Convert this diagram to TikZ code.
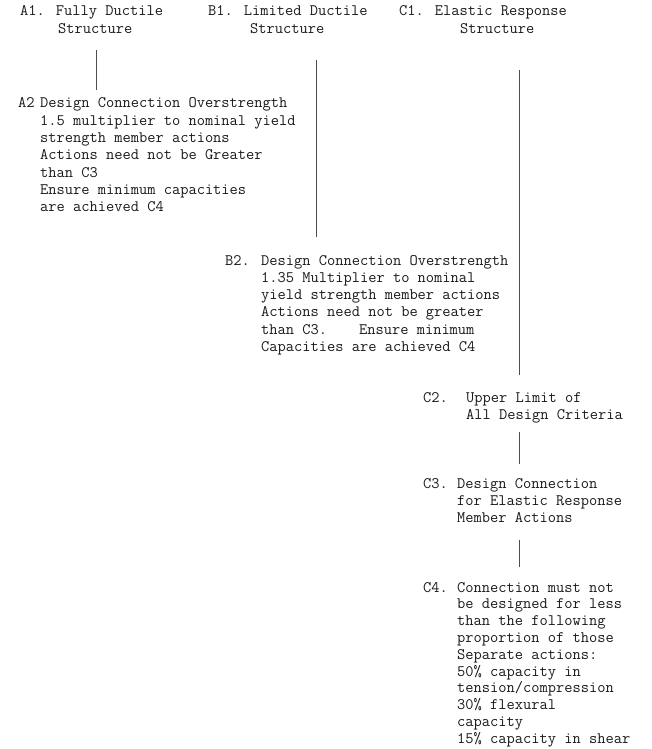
\documentclass[tikz,border=0pt]{standalone}
\usepackage{fontspec}
\usetikzlibrary{positioning}
\begin{document}
\begin{tikzpicture}[x=1pt,y=-1pt,
  every node/.style={black!90,inner sep=0pt,anchor=base west,font=\ttfamily\fontsize{16}{17.3}\selectfont},
  link/.style={draw=black!70,line width=0.9pt}]
  \useasboundingbox (0,0) rectangle (652,749);
  \coordinate (xa) at (96,0);
  \coordinate (xb) at (316,0);
  \coordinate (xc) at (519,0);
  \node (a1) at (20,16) {\begin{tabular}[t]{@{}l@{}}A1. Fully Ductile\\\hspace*{38pt}Structure\end{tabular}};
  \node (b1) at (208,16) {\begin{tabular}[t]{@{}l@{}}B1. Limited Ductile\\\hspace*{42pt}Structure\end{tabular}};
  \node (c1) at (399,16) {\begin{tabular}[t]{@{}l@{}}C1. Elastic Response\\\hspace*{61pt}Structure\end{tabular}};
  \node (a2) at (18,108) {\begin{tabular}[t]{@{}p{22pt}@{}l@{}}
    A2 & Design Connection Overstrength\\
       & 1.5 multiplier to nominal yield\\
       & strength member actions\\
       & Actions need not be Greater\\
       & than C3\\
       & Ensure minimum capacities\\
       & are achieved C4\end{tabular}};
  \node (b2) at (225,265) {\begin{tabular}[t]{@{}p{36pt}@{}l@{}}
    B2. & Design Connection Overstrength\\
        & 1.35 Multiplier to nominal\\
        & yield strength member actions\\
        & Actions need not be greater\\
        & than C3.\hspace*{2em}Ensure minimum\\
        & Capacities are achieved C4\end{tabular}};
  \node (c2) at (423,402) {\begin{tabular}[t]{@{}p{43pt}@{}l@{}}
    C2. & Upper Limit of\\
        & All Design Criteria\end{tabular}};
  \node (c3) at (423,488) {\begin{tabular}[t]{@{}p{34pt}@{}l@{}}
    C3. & Design Connection\\
        & for Elastic Response\\
        & Member Actions\end{tabular}};
  \node (c4) at (423,592) [font=\ttfamily\fontsize{16}{16.8}\selectfont] {\begin{tabular}[t]{@{}p{34pt}@{}l@{}}
    C4. & Connection must not\\
        & be designed for less\\
        & than the following\\
        & proportion of those\\
        & Separate actions:\\
        & 50\% capacity in\\
        & tension/compression\\
        & 30\% flexural\\
        & capacity\\
        & 15\% capacity in shear\end{tabular}};
  \draw [link,shorten <=11.5pt,shorten >=6pt] (a1.south -| xa) -- (a2.north -| xa);
  \draw [link,shorten <=21.5pt,shorten >=16pt] (b1.south -| xb) -- (b2.north -| xb);
  \draw [link,shorten <=31.5pt,shorten >=15pt] (c1.south -| xc) -- (c2.north -| xc);
  \draw [link,shorten <=7.5pt,shorten >=12pt] (c2.south -| xc) -- (c3.north -| xc);
  \draw [link,shorten <=12pt,shorten >=13pt] (c3.south -| xc) -- (c4.north -| xc);
\end{tikzpicture}
\end{document}
